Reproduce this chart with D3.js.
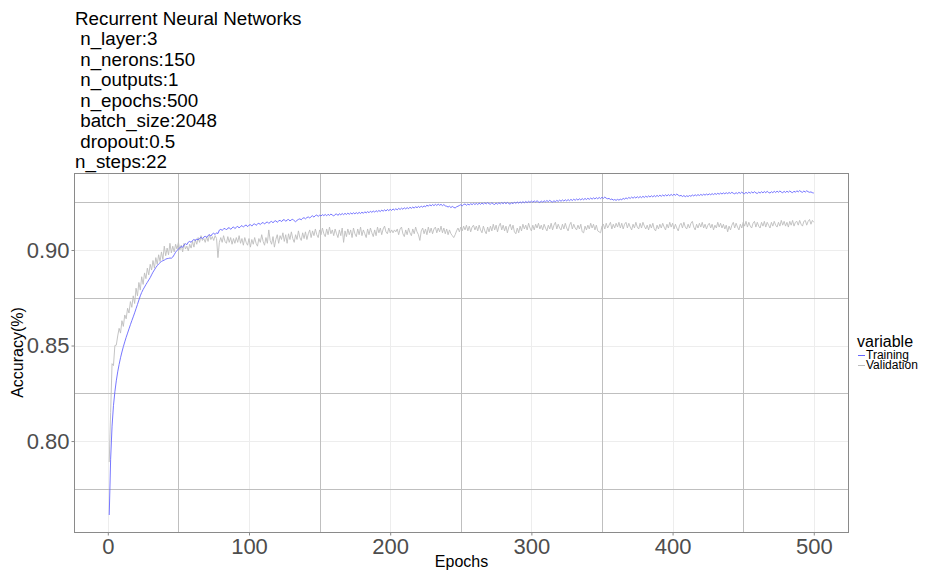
<!DOCTYPE html>
<html><head><meta charset="utf-8">
<script src="https://cdn.jsdelivr.net/npm/d3@7"></script>
<style>
html,body{margin:0;padding:0;background:#fff;}
svg{display:block;font-family:"Liberation Sans",Arial,Helvetica,sans-serif;}
</style></head>
<body><svg id="c" width="927" height="574"></svg>
<script>
const titleLines = ["Recurrent Neural Networks"," n_layer:3"," n_nerons:150"," n_outputs:1"," n_epochs:500"," batch_size:2048"," dropout:0.5","n_steps:22"];
const seriesNames = ["Training","Validation"];
const xTicks = [0,100,200,300,400,500];
const xMinor = [50,150,250,350,450];
const yTicks = [0.80,0.85,0.90];
const yMinor = [0.775,0.825,0.875,0.925];
const yTickLabels = ["0.80","0.85","0.90"];

const training = [
0.7613,0.7905,0.8078,0.8185,0.8258,0.8315,0.8362,0.8401,0.8436,0.8466,
0.8494,0.8519,0.8543,0.8565,0.8587,0.8609,0.8630,0.8650,0.8671,0.8693,
0.8715,0.8738,0.8760,0.8778,0.8793,0.8806,0.8819,0.8831,0.8843,0.8855,
0.8870,0.8884,0.8896,0.8908,0.8918,0.8927,0.8934,0.8940,0.8944,0.8947,
0.8952,0.8955,0.8956,0.8958,0.8957,0.8963,0.8975,0.8988,0.8998,0.9005,
0.9012,0.9018,0.9014,0.9027,0.9033,0.9028,0.9041,0.9045,0.9040,0.9050,
0.9055,0.9049,0.9058,0.9053,0.9061,0.9066,0.9059,0.9068,0.9072,0.9065,
0.9076,0.9080,0.9073,0.9084,0.9088,0.9081,0.9090,0.9086,0.9104,0.9108,
0.9103,0.9110,0.9113,0.9105,0.9114,0.9117,0.9108,0.9116,0.9121,0.9112,
0.9119,0.9124,0.9115,0.9123,0.9128,0.9120,0.9127,0.9131,0.9122,0.9130,
0.9133,0.9125,0.9134,0.9137,0.9129,0.9136,0.9140,0.9133,0.9141,0.9144,
0.9136,0.9143,0.9147,0.9139,0.9146,0.9150,0.9142,0.9151,0.9153,0.9145,
0.9152,0.9156,0.9148,0.9157,0.9159,0.9150,0.9157,0.9160,0.9152,0.9158,
0.9161,0.9153,0.9148,0.9155,0.9160,0.9163,0.9158,0.9166,0.9169,0.9163,
0.9170,0.9173,0.9167,0.9175,0.9179,0.9172,0.9180,0.9183,0.9176,0.9182,
0.9178,0.9185,0.9180,0.9186,0.9179,0.9187,0.9181,0.9188,0.9183,0.9178,
0.9186,0.9189,0.9181,0.9190,0.9184,0.9191,0.9185,0.9192,0.9186,0.9193,
0.9187,0.9194,0.9188,0.9195,0.9189,0.9196,0.9190,0.9197,0.9191,0.9198,
0.9192,0.9200,0.9194,0.9201,0.9195,0.9203,0.9197,0.9204,0.9198,0.9206,
0.9200,0.9207,0.9201,0.9209,0.9203,0.9210,0.9204,0.9212,0.9206,0.9213,
0.9207,0.9215,0.9209,0.9216,0.9210,0.9218,0.9212,0.9219,0.9213,0.9221,
0.9215,0.9222,0.9216,0.9224,0.9218,0.9225,0.9219,0.9227,0.9221,0.9228,
0.9222,0.9230,0.9224,0.9231,0.9226,0.9235,0.9229,0.9237,0.9231,0.9238,
0.9232,0.9239,0.9233,0.9240,0.9234,0.9239,0.9232,0.9238,0.9231,0.9229,
0.9225,0.9229,0.9222,0.9228,0.9223,0.9220,0.9226,0.9229,0.9233,0.9237,
0.9231,0.9238,0.9241,0.9234,0.9241,0.9235,0.9243,0.9237,0.9244,0.9238,
0.9244,0.9238,0.9245,0.9239,0.9246,0.9240,0.9247,0.9241,0.9248,0.9242,
0.9240,0.9247,0.9241,0.9238,0.9246,0.9240,0.9247,0.9241,0.9248,0.9242,
0.9249,0.9242,0.9249,0.9243,0.9240,0.9248,0.9242,0.9250,0.9244,0.9251,
0.9245,0.9252,0.9246,0.9253,0.9247,0.9254,0.9248,0.9255,0.9249,0.9256,
0.9250,0.9257,0.9251,0.9258,0.9252,0.9249,0.9256,0.9250,0.9258,0.9252,
0.9259,0.9253,0.9260,0.9254,0.9251,0.9258,0.9252,0.9260,0.9254,0.9261,
0.9255,0.9262,0.9256,0.9263,0.9257,0.9264,0.9258,0.9265,0.9259,0.9266,
0.9260,0.9267,0.9261,0.9268,0.9262,0.9269,0.9263,0.9270,0.9264,0.9271,
0.9265,0.9272,0.9266,0.9273,0.9267,0.9274,0.9268,0.9275,0.9269,0.9276,
0.9270,0.9277,0.9271,0.9268,0.9270,0.9264,0.9267,0.9261,0.9264,0.9260,
0.9265,0.9261,0.9266,0.9263,0.9270,0.9266,0.9273,0.9268,0.9275,0.9270,
0.9277,0.9271,0.9278,0.9272,0.9279,0.9273,0.9280,0.9274,0.9281,0.9275,
0.9282,0.9276,0.9283,0.9277,0.9284,0.9278,0.9285,0.9279,0.9286,0.9280,
0.9287,0.9281,0.9288,0.9282,0.9289,0.9283,0.9290,0.9284,0.9291,0.9285,
0.9292,0.9286,0.9293,0.9287,0.9283,0.9286,0.9280,0.9285,0.9279,0.9284,
0.9280,0.9285,0.9281,0.9288,0.9283,0.9289,0.9284,0.9290,0.9285,0.9291,
0.9286,0.9292,0.9287,0.9293,0.9288,0.9294,0.9289,0.9295,0.9290,0.9296,
0.9291,0.9297,0.9292,0.9298,0.9293,0.9299,0.9294,0.9300,0.9295,0.9301,
0.9296,0.9302,0.9297,0.9294,0.9300,0.9295,0.9302,0.9296,0.9303,0.9297,
0.9295,0.9302,0.9296,0.9303,0.9297,0.9304,0.9298,0.9305,0.9299,0.9296,
0.9303,0.9298,0.9305,0.9299,0.9306,0.9300,0.9307,0.9301,0.9298,0.9305,
0.9300,0.9307,0.9301,0.9308,0.9302,0.9309,0.9303,0.9300,0.9307,0.9301,
0.9308,0.9302,0.9309,0.9303,0.9300,0.9308,0.9302,0.9310,0.9304,0.9311,
0.9305,0.9302,0.9309,0.9303,0.9310,0.9305,0.9302,0.9304,0.9300,0.9298
];

const validation = [
0.7890,0.8150,0.8405,0.8395,0.8500,0.8502,0.8550,0.8590,0.8565,0.8630,
0.8600,0.8660,0.8640,0.8695,0.8670,0.8730,0.8700,0.8760,0.8720,0.8800,
0.8760,0.8830,0.8790,0.8860,0.8820,0.8880,0.8850,0.8905,0.8870,0.8925,
0.8895,0.8945,0.8905,0.8960,0.8925,0.8975,0.8940,0.8990,0.8950,0.9020,
0.8970,0.9010,0.8975,0.9035,0.8985,0.9020,0.8990,0.9030,0.9005,0.9040,
0.9000,0.9025,0.8990,0.9035,0.9005,0.9020,0.8995,0.9030,0.9010,0.9045,
0.9015,0.9055,0.9030,0.9065,0.9040,0.9075,0.9050,0.9060,0.9040,0.9070,
0.9045,0.9080,0.9055,0.9070,0.9050,0.9075,0.9060,0.8960,0.9040,0.9065,
0.9040,0.9075,0.9045,0.9035,0.9070,0.9040,0.9065,0.9030,0.9060,0.9035,
0.9065,0.9040,0.9075,0.9035,0.9060,0.9025,0.9065,0.9040,0.9025,0.9060,
0.9015,0.9055,0.9030,0.9065,0.9035,0.9020,0.9060,0.9040,0.9080,0.9045,
0.9025,0.9065,0.9035,0.9105,0.9050,0.9030,0.9070,0.9015,0.9055,0.9080,
0.9035,0.9075,0.9055,0.9090,0.9045,0.9080,0.9035,0.9085,0.9055,0.9095,
0.9060,0.9040,0.9080,0.9055,0.9100,0.9065,0.9050,0.9090,0.9060,0.9095,
0.9055,0.9085,0.9105,0.9065,0.9100,0.9075,0.9110,0.9080,0.9065,0.9105,
0.9080,0.9115,0.9085,0.9070,0.9110,0.9080,0.9120,0.9085,0.9105,0.9075,
0.9110,0.9085,0.9065,0.9105,0.9075,0.9115,0.9040,0.9100,0.9070,0.9110,
0.9080,0.9105,0.9065,0.9115,0.9085,0.9070,0.9110,0.9080,0.9120,0.9075,
0.9105,0.9085,0.9065,0.9110,0.9080,0.9115,0.9090,0.9070,0.9105,0.9075,
0.9120,0.9090,0.9115,0.9080,0.9110,0.9125,0.9095,0.9085,0.9115,0.9090,
0.9105,0.9090,0.9105,0.9095,0.9110,0.9080,0.9110,0.9120,0.9085,0.9070,
0.9105,0.9080,0.9115,0.9090,0.9075,0.9110,0.9085,0.9120,0.9095,0.9080,
0.9050,0.9100,0.9115,0.9085,0.9110,0.9080,0.9120,0.9090,0.9115,0.9085,
0.9110,0.9120,0.9090,0.9115,0.9095,0.9125,0.9090,0.9115,0.9085,0.9110,
0.9080,0.9105,0.9085,0.9075,0.9065,0.9080,0.9100,0.9115,0.9095,0.9120,
0.9100,0.9125,0.9105,0.9130,0.9100,0.9125,0.9095,0.9120,0.9130,0.9105,
0.9125,0.9100,0.9130,0.9105,0.9090,0.9125,0.9100,0.9085,0.9120,0.9095,
0.9125,0.9100,0.9135,0.9105,0.9130,0.9095,0.9125,0.9140,0.9105,0.9130,
0.9100,0.9125,0.9090,0.9120,0.9135,0.9105,0.9130,0.9095,0.9085,0.9115,
0.9090,0.9125,0.9100,0.9135,0.9110,0.9130,0.9105,0.9140,0.9115,0.9100,
0.9130,0.9105,0.9135,0.9115,0.9140,0.9110,0.9130,0.9105,0.9135,0.9115,
0.9100,0.9130,0.9110,0.9140,0.9105,0.9130,0.9145,0.9110,0.9135,0.9115,
0.9105,0.9135,0.9110,0.9140,0.9115,0.9100,0.9130,0.9145,0.9110,0.9135,
0.9115,0.9105,0.9130,0.9110,0.9135,0.9095,0.9090,0.9125,0.9105,0.9130,
0.9110,0.9140,0.9115,0.9135,0.9105,0.9130,0.9100,0.9095,0.9090,0.9125,
0.9135,0.9110,0.9140,0.9115,0.9130,0.9145,0.9110,0.9135,0.9115,0.9140,
0.9120,0.9145,0.9115,0.9140,0.9110,0.9135,0.9145,0.9115,0.9140,0.9120,
0.9105,0.9135,0.9115,0.9145,0.9120,0.9110,0.9140,0.9115,0.9145,0.9125,
0.9110,0.9130,0.9105,0.9135,0.9115,0.9140,0.9110,0.9100,0.9130,0.9110,
0.9135,0.9115,0.9140,0.9120,0.9105,0.9135,0.9115,0.9145,0.9120,0.9140,
0.9110,0.9135,0.9115,0.9100,0.9130,0.9140,0.9115,0.9145,0.9120,0.9110,
0.9135,0.9115,0.9140,0.9150,0.9120,0.9105,0.9135,0.9115,0.9140,0.9120,
0.9145,0.9115,0.9135,0.9110,0.9130,0.9140,0.9115,0.9135,0.9105,0.9130,
0.9115,0.9145,0.9120,0.9140,0.9115,0.9135,0.9110,0.9130,0.9095,0.9125,
0.9105,0.9130,0.9145,0.9115,0.9140,0.9120,0.9105,0.9135,0.9115,0.9145,
0.9125,0.9150,0.9120,0.9145,0.9125,0.9115,0.9140,0.9150,0.9120,0.9145,
0.9125,0.9115,0.9145,0.9125,0.9150,0.9120,0.9145,0.9130,0.9115,0.9145,
0.9125,0.9150,0.9130,0.9120,0.9145,0.9125,0.9155,0.9130,0.9150,0.9125,
0.9145,0.9120,0.9150,0.9130,0.9155,0.9125,0.9145,0.9150,0.9130,0.9155,
0.9135,0.9125,0.9150,0.9155,0.9130,0.9150,0.9160,0.9135,0.9155,0.9145
];
const epochs = d3.range(1, training.length + 1);
const colors = {Training:"#6666ff", Validation:"#bdbdbd"};

const svg = d3.select("#c");
const L = 74, R = 849, T = 173, B = 532;
const x = d3.scaleLinear().domain([-23.95, 524.95]).range([L, R]);
const y = d3.scaleLinear().domain([0.7524, 0.9403]).range([B, T]);

// title
titleLines.forEach((t, i) => {
  svg.append("text").attr("x", 75).attr("y", 25 + i * 20.45)
    .attr("font-size", 18.8).attr("fill", "#000").style("white-space", "pre").text(t);
});

// grids
const g = svg.append("g");
g.selectAll(".ymaj").data(yTicks).join("line")
  .attr("x1", L).attr("x2", R).attr("y1", d => Math.round(y(d)) + 0.5).attr("y2", d => Math.round(y(d)) + 0.5)
  .attr("stroke", "#ededed").attr("stroke-width", 1);
g.selectAll(".xmaj").data(xTicks).join("line")
  .attr("y1", T).attr("y2", B).attr("x1", d => Math.round(x(d)) + 0.5).attr("x2", d => Math.round(x(d)) + 0.5)
  .attr("stroke", "#ededed").attr("stroke-width", 1);
g.selectAll(".ymin").data(yMinor).join("line")
  .attr("x1", L).attr("x2", R).attr("y1", d => Math.round(y(d)) + 0.5).attr("y2", d => Math.round(y(d)) + 0.5)
  .attr("stroke", "#bfbfbf").attr("stroke-width", 1);
g.selectAll(".xmin").data(xMinor).join("line")
  .attr("y1", T).attr("y2", B).attr("x1", d => Math.round(x(d)) + 0.5).attr("x2", d => Math.round(x(d)) + 0.5)
  .attr("stroke", "#bfbfbf").attr("stroke-width", 1);

// lines
const line = d3.line().x((d, i) => x(epochs[i])).y(d => y(d));
svg.append("path").datum(validation).attr("d", line).attr("fill", "none")
  .attr("stroke", colors.Validation).attr("stroke-width", 0.9);
svg.append("path").datum(training).attr("d", line).attr("fill", "none")
  .attr("stroke", colors.Training).attr("stroke-width", 0.9);

// panel border
svg.append("rect").attr("x", L + 0.5).attr("y", T + 0.5).attr("width", R - L - 1).attr("height", B - T)
  .attr("fill", "none").attr("stroke", "#8a8a8a").attr("stroke-width", 1);

// axes
const xa = svg.append("g").attr("transform", `translate(0,${B + 0.5})`)
  .call(d3.axisBottom(x).tickValues(xTicks).tickSize(3).tickPadding(3).tickFormat(d3.format("d")));
xa.select(".domain").remove();
xa.selectAll("line").attr("stroke", "#8a8a8a");
xa.selectAll("text").attr("font-size", 22).attr("fill", "#4d4d4d").attr("font-family", "Liberation Sans, Arial, sans-serif");

const ya = svg.append("g").attr("transform", `translate(${L + 0.5},0)`)
  .call(d3.axisLeft(y).tickValues(yTicks).tickSize(3).tickPadding(2).tickFormat((d, i) => yTickLabels[i]));
ya.select(".domain").remove();
ya.selectAll("line").attr("stroke", "#8a8a8a");
ya.selectAll("text").attr("font-size", 22).attr("fill", "#4d4d4d").attr("font-family", "Liberation Sans, Arial, sans-serif");

// axis titles
svg.append("text").attr("x", (L + R) / 2).attr("y", 567).attr("text-anchor", "middle")
  .attr("font-size", 16).attr("fill", "#000").text("Epochs");
svg.append("text").attr("transform", `translate(23,${(T + B) / 2}) rotate(-90)`).attr("text-anchor", "middle")
  .attr("font-size", 16).attr("fill", "#000").text("Accuracy(%)");

// legend
svg.append("text").attr("x", 857).attr("y", 347).attr("font-size", 16).attr("fill", "#000").text("variable");
seriesNames.forEach((s, i) => {
  const yy = 355 + i * 10;
  svg.append("line").attr("x1", 858).attr("x2", 865).attr("y1", yy + 0.5).attr("y2", yy + 0.5)
    .attr("stroke", colors[s]).attr("stroke-width", 1);
  svg.append("text").attr("x", 866).attr("y", 359 + i * 10).attr("font-size", 12).attr("fill", "#000").text(s);
});
</script></body></html>
